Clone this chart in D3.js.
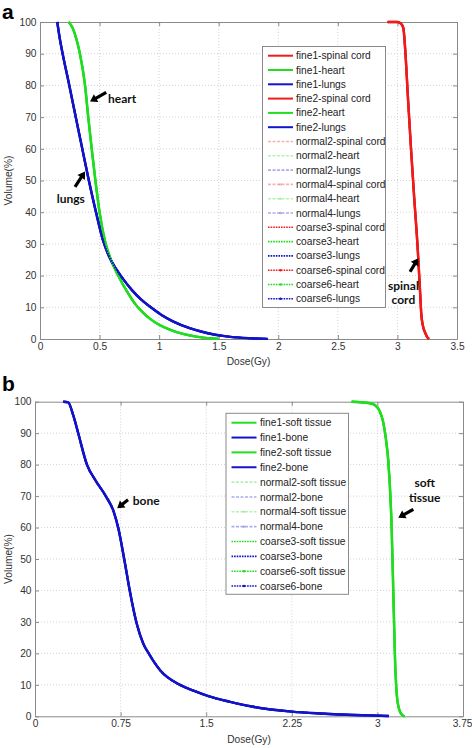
<!DOCTYPE html>
<html><head><meta charset="utf-8">
<script src="https://cdn.jsdelivr.net/npm/d3@7"></script>
<style>body{margin:0;background:#fff}</style>
</head><body><svg id="c" width="472" height="748"></svg>
<script>
// ---------------- data ----------------
const plans = ["fine1","fine2","normal2","normal4","coarse3","coarse6"];
const organsA = ["spinal cord","heart","lungs"];
const organsB = ["soft tissue","bone"];
const xTicksA = [0,0.5,1,1.5,2,2.5,3,3.5];
const xTickLabelsA = ["0","0.5","1","1.5","2","2.5","3","3.5"];
const xTicksB = [0,0.75,1.5,2.25,3,3.75];
const xTickLabelsB = ["0","0.75","1.5","2.25","3","3.75"];
const yTicks = [0,10,20,30,40,50,60,70,80,90,100];

// panel a DVH curves (dose Gy, volume %)
const spinalDose = [2.918,3.0,3.03,3.05,3.064,3.09,3.114,3.14,3.17,3.19,3.2,3.215,3.235,3.25,3.266];
const spinalVol  = [100,100,99.5,98,92,75,60,45,28.6,15,8,4,1.8,0.6,0];
const heartDose = [0.24,0.275,0.31,0.335,0.378,0.405,0.434,0.465,0.5,0.545,0.585,0.63,0.67,0.73,0.8,0.86,0.93,1.0,1.1,1.2,1.34,1.5];
const heartVol  = [100,98,94,90,80,70,60,50,40,31,26,22,19,15,11,8.5,6.2,4.5,2.8,1.6,0.6,0.05];
const lungsDose = [0.145,0.165,0.19,0.246,0.30,0.355,0.41,0.47,0.53,0.58,0.64,0.70,0.77,0.85,0.93,1.02,1.12,1.25,1.4,1.55,1.7,1.91];
const lungsVol  = [100,95,90,80,70,60,50,40,31,26,22,18.8,15.5,12.4,10,7.6,5.5,3.5,1.9,0.9,0.35,0.05];
// panel b DVH curves
const softDose = [2.775,2.935,2.98,3.02,3.05,3.075,3.096,3.125,3.14,3.155,3.17,3.185,3.198,3.215,3.24];
const softVol  = [100,99.5,98.9,97,93.6,88,80.9,59.7,38.5,17.4,6.8,3,1.5,0.5,0];
const boneDose = [0.248,0.29,0.336,0.38,0.455,0.53,0.62,0.69,0.73,0.783,0.832,0.891,0.95,1.0,1.1,1.27,1.4,1.52,1.71,1.9,2.25,2.5,2.73,2.92,3.1];
const boneVol  = [100,99.8,95.6,89.8,80,75,70,65,59.8,49.7,39.6,29.5,23,19.8,14.5,10,8,6.4,4.6,3.1,1.5,0.9,0.5,0.3,0.1];

// annotations (data coords): label lines, anchor, arrow head, arrow tail
const annotA = [
  {lines:["heart"], x:0.571, y:75.7, anchor:"start", head:[0.42,74.9], tail:[0.556,77.8]},
  {lines:["lungs"], x:0.14, y:44.2, anchor:"start", head:[0.378,52.8], tail:[0.294,48.0]},
  {lines:["spinal","cord"], x:3.05, y:16.9, anchor:"middle", head:[3.175,25.5], tail:[3.106,21.2]}
];
const annotB = [
  {lines:["bone"], x:0.856, y:68.6, anchor:"start", head:[0.72,66.1], tail:[0.815,68.8]},
  {lines:["soft","tissue"], x:3.414, y:74.1, anchor:"middle", head:[3.183,63.1], tail:[3.315,65.8]}
];

// ---------------- styles ----------------
const colors = {"spinal cord":"#ee1c1c","heart":"#22dd22","lungs":"#1414c8","soft tissue":"#22dd22","bone":"#1414c8"};
const planStyle = {
  fine1:{dash:null, op:1, w:2.4, mark:false},
  fine2:{dash:null, op:1, w:2.4, mark:false},
  normal2:{dash:"3,1.5", op:0.35, w:1.6, mark:false},
  normal4:{dash:"3,1.5", op:0.35, w:1.6, mark:true},
  coarse3:{dash:"1.6,1", op:1, w:1.8, mark:false},
  coarse6:{dash:"1.6,1", op:1, w:1.8, mark:true}
};

const svg = d3.select("#c");
const font = "'Liberation Sans', Arial, sans-serif";

function zip(a,b){ return a.map((d,i)=>[d,b[i]]); }

function panel(cfg){
  const {x,y,xTicks,xLabels,curves,organs,legend,annots,tag,tagY,xLabelY} = cfg;
  const g = svg.append("g");
  const [x0,x1] = x.range(), [y0,y1] = y.range();
  // grid
  g.append("g").selectAll("line.gx").data(xTicks.slice(1,-1)).join("line")
    .attr("x1",d=>x(d)).attr("x2",d=>x(d)).attr("y1",y0).attr("y2",y1)
    .attr("stroke","#c8c8c8").attr("stroke-width",0.8).attr("stroke-dasharray","1,2");
  g.append("g").selectAll("line.gy").data(yTicks.slice(1,-1)).join("line")
    .attr("x1",x0).attr("x2",x1).attr("y1",d=>y(d)).attr("y2",d=>y(d))
    .attr("stroke","#c8c8c8").attr("stroke-width",0.8).attr("stroke-dasharray","1,2");
  // axes
  const ax = (gen, tr) => {
    const a = g.append("g").attr("transform",tr).call(gen);
    a.select(".domain").attr("stroke","#8a8a8a");
    a.selectAll(".tick line").attr("stroke","#8a8a8a");
    a.selectAll("text").attr("font-family",font).attr("font-size",10.2).attr("fill","#333");
    return a;
  };
  const bx = ax(d3.axisBottom(x).tickValues(xTicks).tickFormat((d,i)=>xLabels[i]).tickSize(-4).tickPadding(3.5).tickSizeOuter(0),`translate(0,${y0})`);
  // keep the last tick label inside the picture
  bx.selectAll(".tick text").filter((d,i,n)=>i===n.length-1 && x(d)+10>472).attr("text-anchor","end").attr("dx",9);
  ax(d3.axisTop(x).tickValues(xTicks).tickFormat("").tickSize(-4).tickSizeOuter(0),`translate(0,${y1})`);
  ax(d3.axisLeft(y).tickValues(yTicks).tickSize(-4).tickPadding(3.5).tickSizeOuter(0),`translate(${x0},0)`);
  ax(d3.axisRight(y).tickValues(yTicks).tickFormat("").tickSize(-4).tickSizeOuter(0),`translate(${x1},0)`);
  // curves
  const line = d3.line().x(d=>x(d[0])).y(d=>y(d[1])).curve(d3.curveMonotoneX);
  const cg = g.append("g");
  plans.forEach(p=>{
    organs.forEach(o=>{
      const s = planStyle[p];
      cg.append("path").datum(curves[o]).attr("d",line)
        .attr("fill","none").attr("stroke",colors[o]).attr("stroke-width",s.w)
        .attr("stroke-opacity",s.op).attr("stroke-dasharray",s.dash)
        .attr("stroke-linejoin","round");
    });
  });
  // legend
  const L = legend;
  g.append("rect").attr("x",L.x).attr("y",L.y).attr("width",L.w).attr("height",L.h)
    .attr("fill","#fff").attr("stroke","#8a8a8a").attr("stroke-width",1);
  const entries = [];
  plans.forEach(p=>organs.forEach(o=>entries.push({p,o})));
  const lg = g.append("g").selectAll("g").data(entries).join("g")
    .attr("transform",(d,i)=>`translate(${L.x},${L.y+L.first+i*L.step})`);
  lg.append("line").attr("x1",L.sx0).attr("x2",L.sx1).attr("y1",0).attr("y2",0)
    .attr("stroke",d=>colors[d.o]).attr("stroke-width",d=>planStyle[d.p].dash?1.6:2)
    .attr("stroke-opacity",d=>planStyle[d.p].op).attr("stroke-dasharray",d=>planStyle[d.p].dash);
  lg.filter(d=>planStyle[d.p].mark).append("circle").attr("cx",(L.sx0+L.sx1)/2).attr("cy",0).attr("r",1.2)
    .attr("fill",d=>colors[d.o]).attr("fill-opacity",d=>planStyle[d.p].op);
  lg.append("text").attr("x",L.tx).attr("y",0).attr("dy","0.35em")
    .attr("font-family",font).attr("font-size",10.2).attr("fill","#222")
    .text(d=>`${d.p}-${d.o}`);
  // annotations
  annots.forEach(a=>{
    const t = g.append("text").attr("font-family","Lato, 'Open Sans', sans-serif").attr("font-weight","bold")
      .attr("font-size",12).attr("fill","#111").attr("text-anchor",a.anchor);
    a.lines.forEach((l,i)=>t.append("tspan").attr("x",x(a.x)).attr("y",y(a.y)+i*14.5).attr("dy","0.35em").text(l));
    const hx=x(a.head[0]), hy=y(a.head[1]), tx=x(a.tail[0]), ty=y(a.tail[1]);
    const dx=hx-tx, dy=hy-ty, len=Math.hypot(dx,dy), ux=dx/len, uy=dy/len, px=-uy, py=ux;
    const hl=7, hw=4.5, sw=1.6;
    const bxp=hx-ux*hl, byp=hy-uy*hl;
    const pts=[[tx+px*sw,ty+py*sw],[bxp+px*sw,byp+py*sw],[bxp+px*hw,byp+py*hw],[hx,hy],[bxp-px*hw,byp-py*hw],[bxp-px*sw,byp-py*sw],[tx-px*sw,ty-py*sw]];
    g.append("polygon").attr("points",pts.map(p=>p.join(",")).join(" ")).attr("fill","#000");
  });
  // axis labels
  g.append("text").attr("x",(x0+x1)/2).attr("y",xLabelY).attr("text-anchor","middle")
    .attr("font-family",font).attr("font-size",10.2).attr("fill","#333").text("Dose(Gy)");
  g.append("text").attr("transform",`translate(12,${(y0+y1)/2}) rotate(-90)`).attr("text-anchor","middle")
    .attr("font-family",font).attr("font-size",10.2).attr("fill","#333").text("Volume(%)");
  // panel tag
  g.append("text").attr("x",2).attr("y",tagY).attr("font-family","'Liberation Sans', Arial, sans-serif")
    .attr("font-weight","bold").attr("font-size",21).attr("fill","#000").text(tag);
}

panel({
  x:d3.scaleLinear([0,3.5],[40,457]), y:d3.scaleLinear([0,100],[339,22]),
  xTicks:xTicksA, xLabels:xTickLabelsA,
  curves:{"spinal cord":zip(spinalDose,spinalVol),"heart":zip(heartDose,heartVol),"lungs":zip(lungsDose,lungsVol)},
  organs:organsA,
  legend:{x:262.5,y:46.5,w:123,h:261,first:9.2,step:14.3,sx0:5.5,sx1:30.5,tx:33.5},
  annots:annotA, tag:"a", tagY:19, xLabelY:365
});
panel({
  x:d3.scaleLinear([0,3.75],[35,463]), y:d3.scaleLinear([0,100],[716.3,401.7]),
  xTicks:xTicksB, xLabels:xTickLabelsB,
  curves:{"soft tissue":zip(softDose,softVol),"bone":zip(boneDose,boneVol)},
  organs:organsB,
  legend:{x:226,y:413.3,w:122.5,h:181,first:9.4,step:14.85,sx0:5.5,sx1:30.5,tx:34},
  annots:annotB, tag:"b", tagY:391, xLabelY:743
});
</script></body></html>
